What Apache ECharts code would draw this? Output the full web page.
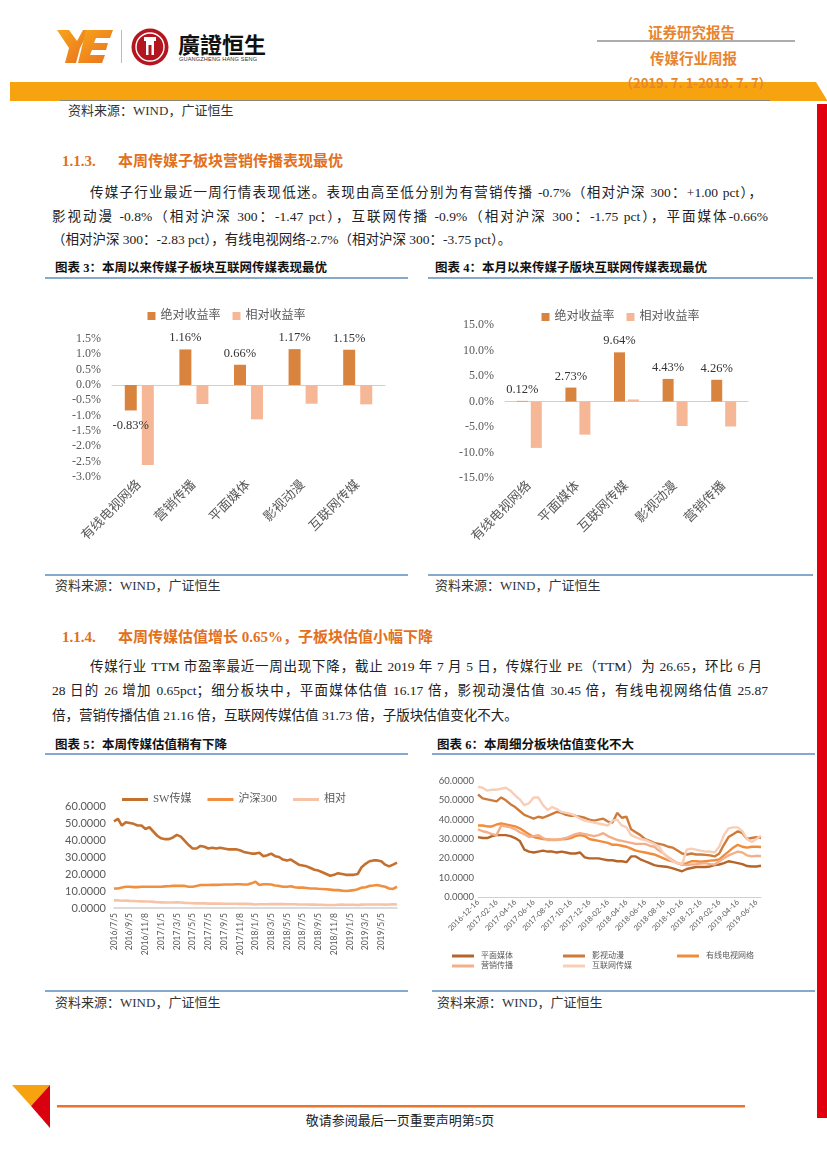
<!DOCTYPE html>
<html><head><meta charset="utf-8">
<script src="https://cdn.jsdelivr.net/npm/echarts@6/dist/echarts.min.js"></script>
<style>
html,body{margin:0;padding:0;background:#fff;}
body{width:827px;height:1169px;position:relative;overflow:hidden;font-family:"Liberation Serif","Noto Sans CJK SC",serif;color:#222;}
.a{position:absolute;white-space:nowrap;}
.p{font-size:13.5px;line-height:20px;color:#222;}
.j{text-align:justify;text-align-last:justify;white-space:normal;}
.h{font-size:15px;line-height:20px;font-weight:bold;color:#E2701D;}
.t{font-size:12.5px;line-height:16px;font-weight:bold;color:#111;}
.src{font-size:13px;line-height:16px;color:#333;}
.bl{position:absolute;height:2px;background:#86a9cc;}
.chart{position:absolute;}
</style></head>
<body>
<!-- page decorations -->
<svg class="a" style="left:0;top:0" width="827" height="1169">
  <defs><linearGradient id="g1" x1="0" y1="0" x2="1" y2="1"><stop offset="0" stop-color="#F7A51C"/><stop offset="1" stop-color="#E9701E"/></linearGradient></defs>
  <polygon points="57,30 69,30 77,41 83,30 89,30 80,48 76,63 65,63 69,48" fill="url(#g1)"/>
  <polygon points="86,30 113,30 110,38 96,38 94,43 108,43 106,50 92,50 90,55 105,55 102,63 78,63" fill="url(#g1)"/>
  <rect x="121" y="30" width="1" height="33" fill="#bbb"/>
  <circle cx="150" cy="47" r="18.5" fill="#B3161E"/>
  <circle cx="150" cy="47" r="14" fill="none" stroke="#fff" stroke-width="1.4"/>
  <rect x="144" y="37" width="12" height="4" fill="#fff"/>
  <rect x="146" y="41" width="8" height="14" fill="#fff"/>
  <rect x="148.5" y="45" width="3" height="10" fill="#B3161E"/>
  <rect x="597" y="40" width="198" height="2" fill="#adadad"/>
  <polygon points="10,82 816,82 827,100 827,101 10,101" fill="#F7A30F"/>
  <rect x="60" y="100" width="710" height="1" fill="#8a8a7a"/>
  <rect x="817" y="104" width="10" height="1014" fill="#E2000F"/>
  <polygon points="12,1085 50,1085 31,1106" fill="#F7A30F"/>
  <polygon points="31,1106 50,1085 50,1128" fill="#D9000F"/>
  <rect x="57" y="1105" width="688" height="2.5" fill="#E8742A"/>
</svg>
<div class="a" style="left:178px;top:30px;font-family:'Noto Sans CJK TC';font-weight:bold;font-size:22px;line-height:26px;color:#111;">廣證恒生</div>
<div class="a" style="left:179px;top:56px;font-family:'Liberation Sans';font-size:5.6px;line-height:7px;color:#333;letter-spacing:0.15px;">GUANGZHENG HANG SENG</div>
<div class="a" style="left:648px;top:23px;font-family:'Noto Sans CJK SC';font-weight:bold;font-size:14.5px;line-height:18px;color:#E8842E;">证券研究报告</div>
<div class="a" style="left:650px;top:49px;font-family:'Noto Sans CJK SC';font-weight:bold;font-size:14.5px;line-height:18px;color:#E8842E;">传媒行业周报</div>
<div class="a" style="left:620px;top:74px;font-family:'Noto Sans CJK SC';font-weight:bold;font-size:13px;line-height:18px;color:#E8862E;">（2019. 7. 1-2019. 7. 7）</div>

<div class="a src" style="left:68px;top:103px;">资料来源：WIND，广证恒生</div>

<div class="a h" style="left:62px;top:151px;">1.1.3.</div>
<div class="a h" style="left:118px;top:151px;">本周传媒子板块营销传播表现最优</div>
<div class="a p j" style="left:90px;top:183px;width:672px;">传媒子行业最近一周行情表现低迷。表现由高至低分别为有营销传播 -0.7%（相对沪深 300：+1.00 pct），</div>
<div class="a p j" style="left:52px;top:207px;width:716px;">影视动漫 -0.8%（相对沪深 300：-1.47 pct），互联网传播 -0.9%（相对沪深 300：-1.75 pct），平面媒体-0.66%</div>
<div class="a p" style="left:52px;top:230px;">（相对沪深 300：-2.83 pct），有线电视网络-2.7%（相对沪深 300：-3.75 pct）。</div>

<div class="a t" style="left:55px;top:260px;">图表 3：本周以来传媒子板块互联网传媒表现最优</div>
<div class="a t" style="left:435px;top:260px;">图表 4：本月以来传媒子版块互联网传媒表现最优</div>
<div class="bl" style="left:45px;top:277px;width:363px;"></div>
<div class="bl" style="left:428px;top:277px;width:385px;"></div>
<div id="c3" class="chart" style="left:45px;top:282px;width:363px;height:290px;"></div>
<div id="c4" class="chart" style="left:428px;top:282px;width:385px;height:290px;"></div>
<div class="bl" style="left:45px;top:574px;width:363px;"></div>
<div class="bl" style="left:428px;top:574px;width:385px;"></div>
<div class="a src" style="left:55px;top:578px;">资料来源：WIND，广证恒生</div>
<div class="a src" style="left:435px;top:578px;">资料来源：WIND，广证恒生</div>

<div class="a h" style="left:62px;top:627px;">1.1.4.</div>
<div class="a h" style="left:118px;top:627px;">本周传媒估值增长 0.65%，子板块估值小幅下降</div>
<div class="a p j" style="left:90px;top:657px;width:672px;">传媒行业 TTM 市盈率最近一周出现下降，截止 2019 年 7 月 5 日，传媒行业 PE（TTM）为 26.65，环比 6 月</div>
<div class="a p j" style="left:52px;top:681px;width:716px;">28 日的 26 增加 0.65pct；细分板块中，平面媒体估值 16.17 倍，影视动漫估值 30.45 倍，有线电视网络估值 25.87</div>
<div class="a p" style="left:52px;top:706px;">倍，营销传播估值 21.16 倍，互联网传媒估值 31.73 倍，子版块估值变化不大。</div>

<div class="a t" style="left:55px;top:737px;">图表 5：本周传媒估值稍有下降</div>
<div class="a t" style="left:437px;top:737px;">图表 6：本周细分板块估值变化不大</div>
<div class="bl" style="left:45px;top:753px;width:363px;"></div>
<div class="bl" style="left:432px;top:753px;width:383px;"></div>
<div id="c5" class="chart" style="left:45px;top:757px;width:363px;height:232px;"></div>
<div id="c6" class="chart" style="left:432px;top:757px;width:383px;height:232px;"></div>
<div class="bl" style="left:45px;top:990px;width:363px;"></div>
<div class="bl" style="left:432px;top:990px;width:383px;"></div>
<div class="a src" style="left:55px;top:995px;">资料来源：WIND，广证恒生</div>
<div class="a src" style="left:437px;top:995px;">资料来源：WIND，广证恒生</div>

<div class="a" style="left:0;width:800px;text-align:center;top:1113px;font-size:13px;line-height:16px;color:#222;">敬请参阅最后一页重要声明第5页</div>

<script>
// ---------- data ----------
const c3Cats = ['有线电视网络','营销传播','平面媒体','影视动漫','互联网传媒'];
const c3Abs = [-0.83, 1.16, 0.66, 1.17, 1.15];
const c3Rel = [-2.61, -0.62, -1.12, -0.61, -0.63];
const c3Ticks = ['-3.0%','-2.5%','-2.0%','-1.5%','-1.0%','-0.5%','0.0%','0.5%','1.0%','1.5%'];

const c4Cats = ['有线电视网络','平面媒体','互联网传媒','影视动漫','营销传播'];
const c4Abs = [0.12, 2.73, 9.64, 4.43, 4.26];
const c4Rel = [-9.1, -6.5, 0.4, -4.8, -4.9];
const c4Ticks = ['-15.0%','-10.0%','-5.0%','0.0%','5.0%','10.0%','15.0%'];

const c5Dates = ['2016/7/5','2016/7/20','2016/8/5','2016/8/19','2016/9/5','2016/9/20','2016/10/10','2016/10/24','2016/11/8','2016/11/22','2016/12/5','2016/12/20',
'2017/1/5','2017/1/20','2017/2/6','2017/2/20','2017/3/5','2017/3/20','2017/4/5','2017/4/20','2017/5/5','2017/5/19','2017/6/5','2017/6/20','2017/7/5','2017/7/20','2017/8/4','2017/8/21','2017/9/5','2017/9/20','2017/10/9','2017/10/24','2017/11/8','2017/11/22','2017/12/5','2017/12/20',
'2018/1/5','2018/1/19','2018/2/5','2018/2/22','2018/3/5','2018/3/20','2018/4/4','2018/4/20','2018/5/5','2018/5/21','2018/6/5','2018/6/20','2018/7/5','2018/7/20','2018/8/6','2018/8/20','2018/9/5','2018/9/20','2018/10/9','2018/10/24','2018/11/8','2018/11/22','2018/12/5','2018/12/20',
'2019/1/5','2019/1/21','2019/2/11','2019/2/25','2019/3/5','2019/3/20','2019/4/4','2019/4/19','2019/5/5','2019/5/20','2019/6/5','2019/6/20','2019/7/5'];
const c5SW = [51,52.5,48.5,50.5,50,49.5,48.5,48.5,46.5,47.5,45,42.5,41,40.5,40.5,41.5,43,42,39.5,37,35,35,36.5,36,35,35.5,35,35.5,35,34.5,34.5,34.5,34,33,32.5,32,32,32.5,30.5,31,32,30.5,30,28.5,28,28.5,27,25.5,25,24.5,23.5,22.5,22,21,20,19,19.5,20.5,20,19.5,19.5,19.5,20,24,26,27.5,28,28,27.5,25.5,24.5,25.5,26.65];
const c5HS = [11.5,11.5,12,12.5,12.5,12.3,12.3,12.5,12.5,12.5,12.5,12.5,12.5,12.7,12.8,13,13,13,13,12.5,12.5,13,13.5,13.5,13.5,13.6,13.6,13.7,13.8,13.8,13.8,14,14,13.8,13.8,14.5,15.5,13.5,14,14,13.8,13.2,13,12.5,12.5,12.8,12.2,12,12,11.8,11.5,11.5,11.3,11.2,11,10.8,10.5,10.5,10.2,10,10.2,10.5,11,12,12.2,13,13.2,13.5,13,12.5,11.5,11.2,12.5];
const c5Rel = [4.5,4.6,4.3,4.4,4.2,4.1,4.0,3.9,3.8,3.8,3.6,3.4,3.3,3.2,3.2,3.2,3.3,3.2,3.0,2.9,2.8,2.7,2.7,2.7,2.6,2.6,2.6,2.6,2.5,2.5,2.5,2.5,2.4,2.4,2.4,2.3,2.1,2.2,2.2,2.2,2.3,2.3,2.3,2.3,2.2,2.2,2.2,2.1,2.1,2.1,2.0,2.0,1.9,1.9,1.8,1.8,1.8,1.9,2.0,1.9,1.9,1.9,1.8,2.0,2.1,2.1,2.1,2.1,2.1,2.0,2.1,2.2,2.1];
const c5Names = ['SW传媒','沪深300','相对'];

const c6Dates = ['2016-12-16','2017-01-01','2017-01-16','2017-02-01','2017-02-16','2017-03-01','2017-03-16','2017-04-01','2017-04-16','2017-05-01','2017-05-16','2017-06-01','2017-06-16','2017-07-01','2017-07-16','2017-08-01','2017-08-16','2017-09-01','2017-09-16','2017-10-01','2017-10-16','2017-11-01','2017-11-16','2017-12-01','2017-12-16',
'2018-01-01','2018-01-16','2018-02-01','2018-02-16','2018-03-01','2018-03-16','2018-04-01','2018-04-16','2018-05-01','2018-05-16','2018-06-01','2018-06-16','2018-07-01','2018-07-16','2018-08-01','2018-08-16','2018-09-01','2018-09-16','2018-10-01','2018-10-16','2018-11-01','2018-11-16','2018-12-01','2018-12-16',
'2019-01-01','2019-01-16','2019-02-01','2019-02-16','2019-03-01','2019-03-16','2019-04-01','2019-04-16','2019-05-01','2019-05-16','2019-06-01','2019-06-16','2019-07-05'];
const c6PM = [31,30.5,30.5,31.5,32,32,32,31.5,30.5,29,24.5,23.5,23,23.5,24,23.5,23.5,23,23.5,23,22.5,22.5,23,20.5,20,20,20,19.5,19,19,18.5,18.5,18,21,21,19.5,18.5,17.5,16.5,16,15.8,15.5,14.8,14,13.3,14.5,15,15.5,15.5,15.5,15.8,16.5,16.8,17.5,18.5,18,17.5,17,16,15.8,15.8,16.17];
const c6YS = [53,51,50.5,50,49.5,51.5,50,48,46.5,44.5,42.5,41.5,40.5,41.5,41,42,43,44,43.5,42.5,42,42,41.5,41,40,39.5,40,40.5,39,38.5,43.5,41,41.5,35,33.5,32,30,29,28,27.5,27,26,25.5,24,22.5,22,22.5,22,22,21.8,21.5,21,22.5,27,31,32.5,34,33,30,30.5,31,30.45];
const c6YX = [37,37,36.5,36.5,37.5,38,37.5,37,36.5,35.5,34,32.5,31,30.5,30,29.8,29.6,29.6,29.8,30,30.5,31.5,32,31.5,30,29.5,29,28.5,28,27,27,26.5,26,25,24,23.5,23,22.5,22,21,20,19,18.5,17.5,16.8,17.5,18.5,18.5,18.2,18.5,18.8,19,19.5,21.5,23.5,25.5,27,26,25.5,26,26,25.87];
const c6YX2 = [35,34,33.5,32.5,32,37,36.5,36,35,33.5,32.5,31,31.5,32,30.5,29.5,29.5,29.5,30,30.5,31.5,32.5,33,32.5,32,31.5,32,33,31.5,30.5,29.5,29,28.5,28,27.5,27.5,27.5,26.5,26,24,22.5,20.5,19,17.5,16.8,16.5,16.8,17,17.3,17.5,17,16.8,18.5,20,21.5,22.5,23.5,23,21.5,21,21.3,21.16];
const c6HL = [57,56.5,55,55.5,55.5,56,56.5,55,52.5,50.5,47.5,48.5,51.5,51.5,47.5,45,46.5,45.5,44,43.5,43,42,40.5,39.5,39,38.5,38,37.5,37,39.5,40,37,36,32,31,30,29.5,28.5,27.5,26,22.5,20,18.5,17.5,17,24.5,25,24.5,24,23.5,23.5,23,26,32,35.5,36,36,34,30,28.5,30,31.73];
const c6Names = ['平面媒体','影视动漫','有线电视网络','营销传播','互联网传媒'];

// ---------- charts ----------
const SERIF = '"Liberation Serif","Noto Sans CJK SC",serif';
const SANS = 'Lato,"Noto Sans CJK SC",sans-serif';
const ORANGE = '#D9843E', PINK = '#F6B797';

function barLabels(vals, pos, neg){
  return vals.map(v => ({value: v, label: {position: v < 0 ? 'bottom' : 'top', distance: v < 0 ? neg : pos}}));
}

function barOption(cats, abs, rel, ticks, grid, legendTop, yMin, yMax, yInt, gap, bw, legendLeft){
  return {
    animation: false,
    textStyle: {fontFamily: SERIF},
    legend: {top: legendTop, left: legendLeft, itemWidth: 8, itemHeight: 8, itemGap: 12, icon: 'rect',
      textStyle: {fontSize: 12, color: '#595959', fontFamily: SERIF}, data: ['绝对收益率','相对收益率']},
    grid: grid,
    xAxis: {type: 'category', data: cats, axisTick: {show: false},
      axisLine: {lineStyle: {color: '#cfcfcf', width: 1}},
      axisLabel: {rotate: 45, fontSize: 13, color: '#595959', margin: 6, fontFamily: SERIF, interval: 0}},
    yAxis: {type: 'value', min: yMin, max: yMax, interval: yInt, splitLine: {show: false},
      axisLine: {show: false}, axisTick: {show: false},
      axisLabel: {fontSize: 12, color: '#595959', margin: 11, fontFamily: SERIF,
        formatter: v => ticks[Math.round((v - yMin) / yInt)]}},
    series: [
      {name: '绝对收益率', type: 'bar', barWidth: bw, barGap: gap, itemStyle: {color: ORANGE},
        data: barLabels(abs, 5, 9),
        label: {show: true, fontSize: 12.5, color: '#333', fontFamily: SERIF, formatter: p => p.value.toFixed(2) + '%'}},
      {name: '相对收益率', type: 'bar', barWidth: bw, itemStyle: {color: PINK}, data: rel}
    ]
  };
}

const c3 = echarts.init(document.getElementById('c3'));
c3.setOption(barOption(c3Cats, c3Abs, c3Rel, c3Ticks,
  {left: 67, right: 23, top: 57, height: 138}, 23, -3, 1.5, 0.5, '42%', 12, 'center'));

const c4 = echarts.init(document.getElementById('c4'));
c4.setOption(barOption(c4Cats, c4Abs, c4Rel, c4Ticks,
  {left: 77, right: 65, top: 43, height: 153}, 24, -15, 15, 5, '27%', 11, 'center'));

const c5Colors = ['#C4712F','#F0903F','#F6C3A8'];
const c5 = echarts.init(document.getElementById('c5'));
c5.setOption({
  animation: false,
  color: c5Colors,
  legend: {top: 32, left: 72, itemWidth: 26, itemHeight: 3, itemGap: 16, icon: 'rect',
    textStyle: {fontSize: 11, color: '#595959', fontFamily: SERIF}, data: c5Names},
  grid: {left: 69, right: 11, top: 49, height: 102},
  xAxis: {type: 'category', data: c5Dates, boundaryGap: false, axisTick: {show: false},
    axisLine: {lineStyle: {color: '#d0d0d0', width: 1.5}},
    axisLabel: {rotate: 90, fontSize: 8.5, color: '#595959', margin: 5, fontFamily: SANS,
      interval: (i) => i % 4 === 0 && i < 72}},
  yAxis: {type: 'value', min: 0, max: 60, interval: 10, splitLine: {show: false},
    axisLine: {show: false}, axisTick: {show: false},
    axisLabel: {fontSize: 11, color: '#595959', margin: 8, fontFamily: SANS, formatter: v => v.toFixed(4)}},
  series: [c5SW, c5HS, c5Rel].map((d, k) => ({name: c5Names[k], type: 'line', data: d, showSymbol: false,
    lineStyle: {width: 2.6, color: c5Colors[k]}, z: 3 - k}))
});

const c6Colors = ['#B5652B','#CD7B3B','#F08D3B','#F3AF8A','#F8CEB6'];
const c6 = echarts.init(document.getElementById('c6'));
const legPos = [[20,195],[131,195],[245,195],[20,205],[131,205]];
c6.setOption({
  animation: false,
  color: c6Colors,
  legend: c6Names.map((n, k) => ({data: [n], left: legPos[k][0], top: legPos[k][1], itemWidth: 22, itemHeight: 3,
    icon: 'rect', padding: 0, textStyle: {fontSize: 8, color: '#595959', fontFamily: SERIF, padding: [0,0,0,2]}})),
  grid: {left: 46, right: 54, top: 24, height: 116},
  xAxis: {type: 'category', data: c6Dates, boundaryGap: false, axisTick: {show: false},
    axisLine: {lineStyle: {color: '#d0d0d0', width: 1}},
    axisLabel: {rotate: 45, fontSize: 7.5, color: '#595959', margin: 4, fontFamily: SANS, interval: 3}},
  yAxis: {type: 'value', min: 0, max: 60, interval: 10, splitLine: {show: false},
    axisLine: {show: false}, axisTick: {show: false},
    axisLabel: {fontSize: 9.5, color: '#595959', margin: 4, fontFamily: SANS, formatter: v => v.toFixed(4)}},
  series: [c6PM, c6YS, c6YX, c6YX2, c6HL].map((d, k) => ({name: c6Names[k], type: 'line', data: d, showSymbol: false,
    lineStyle: {width: 2.4, color: c6Colors[k]}}))
});
</script>
</body></html>
